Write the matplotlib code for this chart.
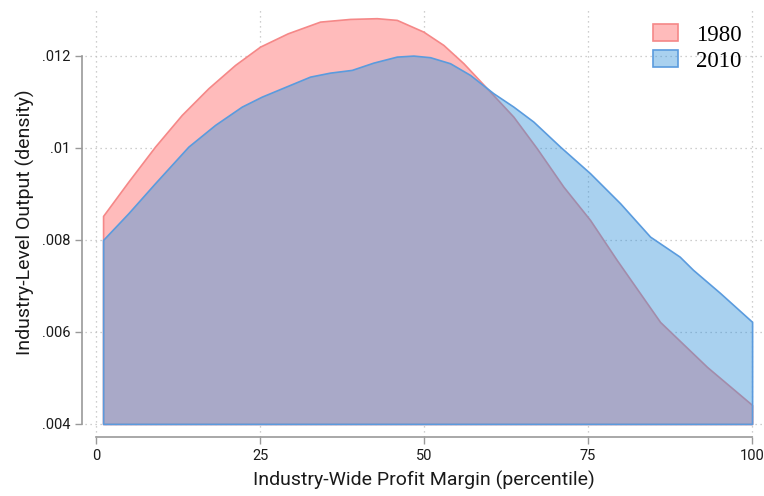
import matplotlib.pyplot as plt
import numpy as np

# %% data (percentile, density)
x_1980 = [1.07, 4.92, 8.99, 13.06, 17.12, 21.19, 25.0, 29.2, 34.15,
          38.72, 42.79, 45.84, 49.89, 52.94, 56.0, 60.06, 63.61, 67.18,
          71.23, 75.3, 79.37, 85.98, 93.14, 100.0]
y_1980 = [.008522, .009267, .010028, .010717, .011298, .011804, .012202,
          .012490, .012746, .012804, .012820, .012783, .012528,
          .012239, .011841, .011224, .010680, .009993, .009159, .008435,
          .007565, .006217, .005239, .004413]

x_2010 = [1.07, 4.92, 8.99, 14.07, 18.14, 22.21, 25.26, 29.57, 32.62, 35.67,
          38.98, 42.27, 45.84, 48.37, 50.91, 53.96, 57.01, 60.56, 63.61,
          66.66, 70.73, 75.3, 79.88, 84.45, 88.96, 91.0, 95.1, 100.0]
y_2010 = [.008000, .008580, .009233, .010028, .010500, .010898, .011115,
          .011370, .011550, .011637, .011696, .011854, .011985, .012007,
          .011972, .011841, .011587, .011189, .010898, .010572, .010028,
          .009450, .008798, .008072, .007637, .007350, .006850, .006220]

x_ticks = [0, 25, 50, 75, 100]
y_ticks = [.004, .006, .008, .01, .012]
y_tick_labels = ['.004', '.006', '.008', '.01', '.012']
base = .004

sans = ['Roboto', 'DejaVu Sans']
serif = ['Liberation Serif', 'DejaVu Serif']

# %% figure
fig = plt.figure(figsize=(7.64, 4.96), dpi=100)
ax = fig.add_axes([0.1113, 0.119, 0.886, 0.865])

ax.fill_between(x_1980, base, y_1980, facecolor='#FFBBBB',
                edgecolor='#F58888', linewidth=1.2, label='1980', zorder=2)
ax.fill_between(x_2010, base, y_2010,
                facecolor=(50/255, 146/255, 219/255, 0.42),
                edgecolor='#5A9BDE', linewidth=1.2, label='2010', zorder=3)

ax.set_xlim(-1.68, 101.5)
ax.set_ylim(0.003717, 0.013043)
ax.set_xticks(x_ticks)
ax.set_yticks(y_ticks)
ax.set_yticklabels(y_tick_labels)

ax.grid(True, linestyle=(0, (1, 3)), color='0.75', linewidth=0.9, zorder=0)
ax.set_axisbelow(True)

for side in ['top', 'right']:
    ax.spines[side].set_visible(False)
ax.spines['left'].set_position(('outward', 2))
ax.spines['left'].set_bounds(.004, .012)
ax.spines['bottom'].set_bounds(0, 100)
for side in ['left', 'bottom']:
    ax.spines[side].set_color('0.6')
    ax.spines[side].set_linewidth(1.2)
ax.tick_params(color='0.6', length=5, width=1.0, labelsize=10.5,
               labelcolor='0.1')
for lab in ax.get_xticklabels() + ax.get_yticklabels():
    lab.set_family(sans)

ax.set_xlabel('Industry-Wide Profit Margin (percentile)', fontsize=14,
              family=sans, color='0.1', labelpad=6)
ax.set_ylabel('Industry-Level Output (density)', fontsize=14,
              family=sans, color='0.1', labelpad=5)

ax.legend(loc='upper right', bbox_to_anchor=(1.0, 1.01), frameon=False,
          prop={'family': serif, 'size': 16.5},
          handlelength=1.1, handleheight=0.75, labelspacing=0.2,
          handletextpad=0.75)

fig.savefig('out.png', dpi=100)
